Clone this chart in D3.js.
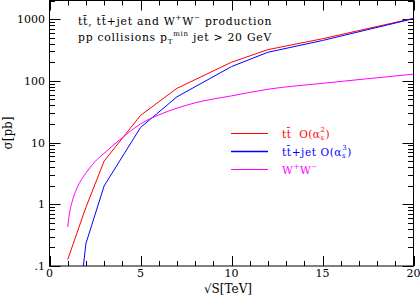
<!DOCTYPE html>
<html><head><meta charset="utf-8">
<script src="https://cdn.jsdelivr.net/npm/d3@7"></script>
<style>
html,body{margin:0;padding:0;background:#fff;}
svg{display:block;}
text{font-family:"DejaVu Serif",serif;}
</style></head>
<body>
<svg id="chart" width="420" height="296"></svg>
<script>
// ---- data ----
const xTickValues = [0, 5, 10, 15, 20];
const yTickValues = [0.1, 1, 10, 100, 1000];
const yTickLabels = [".1", "1", "10", "100", "1000"];

const sqrtS_tt = [1, 2, 3, 5, 7, 10, 12, 15, 20];
const sigma_tt = [0.127, 0.89, 5.0, 27.5, 75.5, 200, 320, 480, 1030];

const sqrtS_ttj = [1, 2, 3, 5, 7, 10, 12, 15, 20];
const sigma_ttj = [0.0006, 0.23, 1.98, 17.5, 55, 170, 290, 450, 1015];

const sqrtS_ww = [1, 1.1, 1.25, 1.5, 1.75, 2, 2.5, 3, 4, 5, 6, 7, 8, 10, 12, 15, 20];
const sigma_ww = [0.43, 0.72, 1.12, 1.8, 2.5, 3.2, 4.9, 6.7, 12, 20, 28, 36, 44, 57, 73, 91, 128];

const seriesColors = ["#ff0000", "#0000ff", "#ff00ff"];

// ---- layout ----
const L = 49.5, R = 413.5, T = 0.5, B = 266;
const svg = d3.select("#chart");
const x = d3.scaleLinear().domain([0, 20]).range([L, R]);
const y = d3.scaleLog().domain([0.1, 2000]).range([B, T]);

svg.append("defs").append("clipPath").attr("id", "clip")
  .append("rect").attr("x", L).attr("y", T).attr("width", R - L).attr("height", B - T);

// minor/major ticks
const xMinor = d3.range(0, 21, 1).filter(v => v % 5 !== 0);
const yMinor = [];
[0.1, 1, 10, 100, 1000].forEach(d => { for (let k = 2; k <= 9; k++) { const v = d * k; if (v <= 2000) yMinor.push(v); } });

const tickG = svg.append("g").attr("stroke", "#000").attr("stroke-width", 1).attr("fill", "none");
xTickValues.forEach(v => {
  const px = Math.round(x(v)) + 0.5;
  tickG.append("line").attr("x1", px).attr("x2", px).attr("y1", B).attr("y2", B - 10);
  tickG.append("line").attr("x1", px).attr("x2", px).attr("y1", T).attr("y2", T + 10);
});
xMinor.forEach(v => {
  const px = Math.round(x(v)) + 0.5;
  tickG.append("line").attr("x1", px).attr("x2", px).attr("y1", B).attr("y2", B - 5);
  tickG.append("line").attr("x1", px).attr("x2", px).attr("y1", T).attr("y2", T + 5);
});
yTickValues.forEach(v => {
  const py = Math.round(y(v)) + 0.5;
  tickG.append("line").attr("x1", L).attr("x2", L + 11).attr("y1", py).attr("y2", py);
  tickG.append("line").attr("x1", R).attr("x2", R - 11).attr("y1", py).attr("y2", py);
});
yMinor.forEach(v => {
  const py = Math.round(y(v)) + 0.5;
  tickG.append("line").attr("x1", L).attr("x2", L + 5.5).attr("y1", py).attr("y2", py);
  tickG.append("line").attr("x1", R).attr("x2", R - 5.5).attr("y1", py).attr("y2", py);
});

// frame
svg.append("rect").attr("x", L).attr("y", T).attr("width", R - L).attr("height", B - T)
  .attr("fill", "none").attr("stroke", "#000").attr("stroke-width", 1);

// tick labels
svg.append("g").selectAll("text").data(xTickValues).join("text")
  .attr("x", d => x(d)).attr("y", 276.5).attr("text-anchor", "middle")
  .attr("font-size", 11).text(d => d);
svg.append("g").selectAll("text").data(yTickValues).join("text")
  .attr("x", 45).attr("y", d => y(d) + 4).attr("text-anchor", "end")
  .attr("font-size", 11).text((d, i) => yTickLabels[i]);

// axis titles
svg.append("text").attr("x", 228).attr("y", 293).attr("text-anchor", "middle")
  .attr("font-size", 12).text("\u221AS[TeV]");
svg.append("text").attr("transform", "translate(12,133) rotate(-90)").attr("text-anchor", "middle")
  .attr("font-size", 12).text("\u03C3[pb]");

// curves
const plot = svg.append("g").attr("clip-path", "url(#clip)");
const lineLin = d3.line().x(d => x(d[0])).y(d => y(d[1]));
const lineSmooth = d3.line().x(d => x(d[0])).y(d => y(d[1])).curve(d3.curveMonotoneX);
plot.append("path").datum(d3.zip(sqrtS_tt, sigma_tt)).attr("d", lineLin)
  .attr("fill", "none").attr("stroke", seriesColors[0]).attr("stroke-width", 1);
plot.append("path").datum(d3.zip(sqrtS_ttj, sigma_ttj)).attr("d", lineLin)
  .attr("fill", "none").attr("stroke", seriesColors[1]).attr("stroke-width", 1);
plot.append("path").datum(d3.zip(sqrtS_ww, sigma_ww)).attr("d", lineSmooth)
  .attr("fill", "none").attr("stroke", seriesColors[2]).attr("stroke-width", 1);

// title
const fs = 10.8, sub = 7;
const ls = 0.75;
const t1 = svg.append("text").attr("x", 78).attr("y", 25).attr("font-size", fs).attr("letter-spacing", ls);
t1.append("tspan").text("tt\u0304, tt\u0304+jet and W");
t1.append("tspan").attr("font-size", sub).attr("dy", -5).text("+");
t1.append("tspan").attr("dy", 5).text("W");
t1.append("tspan").attr("font-size", sub).attr("dy", -5).text("\u2212");
t1.append("tspan").attr("dy", 5).text(" production");

const t2 = svg.append("text").attr("x", 78).attr("y", 41).attr("font-size", fs).attr("letter-spacing", ls);
t2.append("tspan").text("pp collisions p");
t2.append("tspan").attr("font-size", sub).attr("dy", 2.5).text("T");
t2.append("tspan").attr("font-size", sub).attr("dy", -8).text("min");
t2.append("tspan").attr("dy", 5.5).text(" jet > 20 GeV");

// legend
const legY = [133.5, 151.5, 169.5];
seriesColors.forEach((c, i) => {
  svg.append("line").attr("x1", 231).attr("x2", 268).attr("y1", legY[i]).attr("y2", legY[i])
    .attr("stroke", c).attr("stroke-width", i === 1 ? 1.5 : 1);
});
function alphaOrder(g, pow) {
  g.append("tspan").text("O(\u03B1");
  g.append("tspan").attr("font-size", sub).attr("dy", 2.5).text("s");
  g.append("tspan").attr("font-size", sub).attr("dx", -4).attr("dy", -8).text(pow);
  g.append("tspan").attr("dy", 5.5).text(")");
}
const lg1 = svg.append("text").attr("x", 282).attr("y", legY[0] + 4).attr("font-size", 10.5)
  .attr("fill", seriesColors[0]).attr("letter-spacing", 0.5);
lg1.append("tspan").text("tt\u0304\u00A0\u00A0");
alphaOrder(lg1, "2");
const lg2 = svg.append("text").attr("x", 282).attr("y", legY[1] + 4).attr("font-size", 10.5)
  .attr("fill", seriesColors[1]).attr("letter-spacing", 0.6);
lg2.append("tspan").text("tt\u0304+jet ");
alphaOrder(lg2, "3");
const lg3 = svg.append("text").attr("x", 282).attr("y", legY[2] + 4).attr("font-size", 10.5)
  .attr("fill", seriesColors[2]).attr("letter-spacing", 0.6);
lg3.append("tspan").text("W");
lg3.append("tspan").attr("font-size", sub).attr("dy", -5).text("+");
lg3.append("tspan").attr("dy", 5).text("W");
lg3.append("tspan").attr("font-size", sub).attr("dy", -5).text("\u2212");
</script>
</body></html>
